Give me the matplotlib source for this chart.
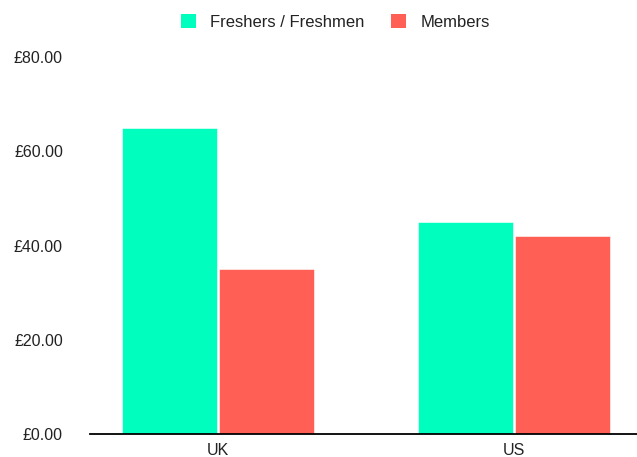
import matplotlib
matplotlib.use("Agg")
import matplotlib.pyplot as plt
import numpy as np
from matplotlib.patches import Patch

categories = ["UK", "US"]
series_names = ["Freshers / Freshmen", "Members"]
freshers = [65, 45]
members = [35, 42]
y_ticks = [0, 20, 40, 60, 80]
y_labels = ["£0.00", "£20.00", "£40.00", "£60.00", "£80.00"]

colors = ["#00FFBF", "#FF5F55"]

plt.rcParams['font.family'] = ['Liberation Sans', 'DejaVu Sans']

W, H = 637, 457
fig = plt.figure(figsize=(W / 100, H / 100), dpi=100)
left, right, bottom, top = 90, 637, 434, 57
ax = fig.add_axes([left / W, 1 - bottom / H, (right - left) / W, (bottom - top) / H])

x = np.arange(len(categories))
w = 0.32
off = 0.1645
ax.bar(x - off, freshers, width=w, color=colors[0], edgecolor="white", linewidth=0.4, zorder=2)
ax.bar(x + off, members, width=w, color=colors[1], edgecolor="white", linewidth=0.4, zorder=2)

ax.set_xlim(-128 / 296, (637 - 218) / 296)
ax.set_ylim(0, 80)
ax.set_yticks(y_ticks)
ax.set_yticklabels(y_labels, fontsize=11.5, color="#222222")
ax.set_xticks(x)
ax.set_xticklabels(categories, fontsize=11.5, color="#222222")
ax.tick_params(axis="y", length=0, pad=19.5)
ax.tick_params(axis="x", length=0, pad=6.5)
for s in ["top", "right", "left"]:
    ax.spines[s].set_visible(False)
ax.spines["bottom"].set_linewidth(1.3)
ax.spines["bottom"].set_color("black")
ax.spines["bottom"].set_zorder(3)

handles = [Patch(facecolor=colors[0], edgecolor="none"), Patch(facecolor=colors[1], edgecolor="none")]
fig.legend(handles, series_names, loc="center", bbox_to_anchor=(335.5 / W, 1 - 22 / H),
           ncol=2, frameon=False, fontsize=12, handlelength=0.9, handleheight=0.9,
           handletextpad=0.85, columnspacing=1.6, labelcolor="#222222")

fig.savefig("out.png", dpi=100, facecolor="white")
